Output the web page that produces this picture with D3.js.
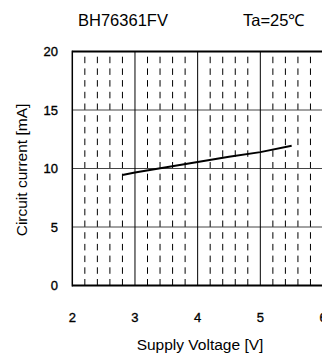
<!DOCTYPE html>
<html>
<head>
<meta charset="utf-8">
<script src="https://cdn.jsdelivr.net/npm/d3@7"></script>
<style>
  html, body { margin: 0; padding: 0; background: #fff; overflow: hidden; }
  svg { display: block; font-family: "Liberation Sans", Arial, sans-serif; }
</style>
</head>
<body>
<div id="chart"></div>
<script>
// data
const voltage = [2.8, 3.0, 3.5, 4.0, 4.5, 5.0, 5.5];
const current = [9.45, 9.65, 10.1, 10.55, 11.0, 11.4, 11.95];

const xTicks = [2, 3, 4, 5, 6];
const yTicks = [0, 5, 10, 15, 20];
const title = "BH76361FV";
const condition = "Ta=25\u2103";
const xLabel = "Supply Voltage [V]";
const yLabel = "Circuit current [mA]";

const width = 340, height = 354;
const x = d3.scaleLinear().domain([2, 6]).range([72.3, 323]);
const y = d3.scaleLinear().domain([0, 20]).range([285.5, 51.5]);

const svg = d3.select("#chart").append("svg")
  .attr("width", width)
  .attr("height", height);

// minor dashed verticals
const minorX = d3.range(2, 6.001, 0.2).filter(v => Math.abs(v - Math.round(v)) > 0.01);
svg.append("g").selectAll("line")
  .data(minorX)
  .join("line")
  .attr("x1", d => x(d)).attr("x2", d => x(d))
  .attr("y1", y(0)).attr("y2", y(20))
  .attr("stroke", "#000")
  .attr("stroke-width", 1)
  .attr("stroke-dasharray", "6.5,5.2");

// major horizontal gridlines
svg.append("g").selectAll("line")
  .data(yTicks.slice(1, -1))
  .join("line")
  .attr("x1", x(2)).attr("x2", x(6))
  .attr("y1", d => y(d)).attr("y2", d => y(d))
  .attr("stroke", "#444")
  .attr("stroke-width", 1);

// major vertical gridlines
svg.append("g").selectAll("line")
  .data(xTicks.slice(1))
  .join("line")
  .attr("x1", d => x(d)).attr("x2", d => x(d))
  .attr("y1", y(0)).attr("y2", y(20))
  .attr("stroke", "#000")
  .attr("stroke-width", 1);

// frame
svg.append("line").attr("x1", x(2)).attr("x2", x(6)).attr("y1", y(20)).attr("y2", y(20))
  .attr("stroke", "#000").attr("stroke-width", 1.8);
svg.append("line").attr("x1", x(2)).attr("x2", x(6)).attr("y1", y(0)).attr("y2", y(0))
  .attr("stroke", "#000").attr("stroke-width", 2);
svg.append("line").attr("x1", x(2)).attr("x2", x(2)).attr("y1", y(0) + 1).attr("y2", y(20) - 0.9)
  .attr("stroke", "#000").attr("stroke-width", 1.5);

// curve
const line = d3.line().x((d, i) => x(voltage[i])).y(d => y(d));
svg.append("path")
  .datum(current)
  .attr("d", line)
  .attr("fill", "none")
  .attr("stroke", "#000")
  .attr("stroke-width", 2);

// tick labels
svg.append("g").selectAll("text")
  .data(yTicks)
  .join("text")
  .attr("x", 58)
  .attr("y", d => y(d))
  .attr("dy", "0.35em")
  .attr("text-anchor", "end")
  .attr("font-size", 13)
  .attr("stroke", "#000")
  .attr("stroke-width", 0.35)
  .text(d => d);

svg.append("g").selectAll("text")
  .data(xTicks)
  .join("text")
  .attr("x", d => x(d))
  .attr("y", 322)
  .attr("text-anchor", "middle")
  .attr("font-size", 13)
  .attr("stroke", "#000")
  .attr("stroke-width", 0.35)
  .text(d => d);

// titles
svg.append("text").attr("x", 78).attr("y", 25.5).attr("font-size", 16.5).text(title);
svg.append("text").attr("x", 243).attr("y", 25.5).attr("font-size", 16.5).text(condition);

svg.append("text")
  .attr("x", 200).attr("y", 350)
  .attr("text-anchor", "middle")
  .attr("font-size", 15.5)
  .text(xLabel);

svg.append("text")
  .attr("transform", "translate(27,170) rotate(-90)")
  .attr("text-anchor", "middle")
  .attr("font-size", 15.5)
  .text(yLabel);
</script>
</body>
</html>
